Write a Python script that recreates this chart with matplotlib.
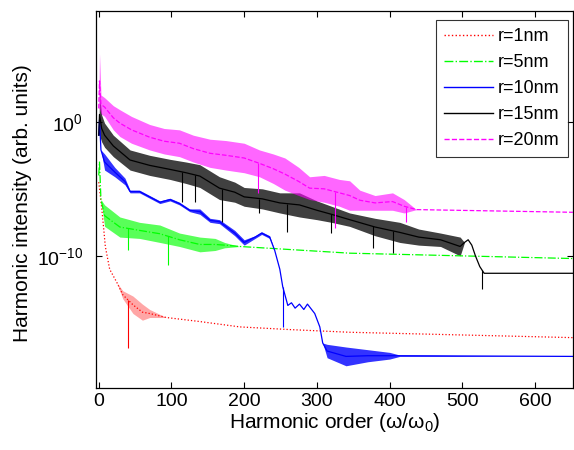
import matplotlib
matplotlib.use("Agg")
import matplotlib.pyplot as plt
import numpy as np

plt.rcParams["font.family"] = ["Liberation Sans", "DejaVu Sans"]
plt.rcParams["mathtext.fontset"] = "custom"
plt.rcParams["mathtext.rm"] = "Liberation Sans"
plt.rcParams["mathtext.it"] = "Liberation Sans"

# values: harmonic order, upper / lower edge of the noisy band (log10 intensity)
r1_h = [0, 4, 7, 9, 15, 25, 33, 47, 60, 70, 93, 139, 194, 263, 345, 652]
r1_hi = [-4.5, -6.4, -8.1, -9.3, -11.0, -12.0, -12.6, -13.0, -13.6, -14.0, -14.6, -14.9, -15.3, -15.5, -15.7, -16.1]
r1_lo = [-4.5, -6.4, -8.1, -9.3, -11.0, -12.0, -13.2, -14.3, -14.8, -14.6, -14.6, -14.9, -15.3, -15.5, -15.7, -16.1]

r5_h = [0, 1, 3, 8, 29, 56, 84, 111, 139, 160, 173, 194, 345, 652]
r5_hi = [-4.0, -3.0, -5.8, -6.2, -7.1, -7.5, -7.7, -8.3, -8.6, -8.7, -9.0, -9.3, -9.8, -10.2]
r5_lo = [-4.0, -3.0, -5.8, -7.8, -8.6, -8.7, -9.0, -9.3, -9.7, -9.6, -9.4, -9.3, -9.8, -10.2]

r10_h = [0, 1, 3, 8, 22, 36, 43, 56, 70, 84, 98, 111, 125, 139, 153, 166, 187, 200, 215, 224, 235,
         242, 249, 253, 256, 260, 265, 270, 276, 282, 287, 297, 304, 308, 314, 340, 370, 400, 414, 652]
r10_hi = [-1.0, 0.15, -2.1, -2.4, -3.4, -4.2, -5.1, -5.1, -5.5, -5.9, -5.7, -6.0, -6.5, -6.5, -7.2, -7.3, -8.1, -8.8, -8.5, -8.2, -8.5,
          -9.6, -11.0, -12.3, -12.9, -13.7, -13.5, -13.9, -13.6, -14.0, -13.6, -14.3, -15.3, -16.5, -16.6, -16.8, -17.0, -17.2, -17.4, -17.5]
r10_lo = [-1.0, 0.15, -2.1, -3.6, -4.1, -4.7, -5.3, -5.3, -5.7, -6.1, -5.9, -6.2, -6.7, -6.9, -7.5, -7.6, -8.5, -9.2, -8.7, -8.4, -8.7,
          -9.6, -11.0, -12.3, -12.9, -13.7, -13.5, -13.9, -13.6, -14.0, -13.6, -14.3, -15.3, -16.5, -17.6, -18.2, -17.9, -17.7, -17.5, -17.5]

r15_h = [0, 1, 4, 8, 20, 43, 70, 98, 120, 139, 166, 187, 200, 225, 249, 276, 300, 320, 345, 380, 414, 440, 470, 497,
         503, 508, 513, 518, 524, 530, 652]
r15_hi = [-1.0, 2.1, 0.5, -0.1, -1.0, -2.1, -2.5, -2.8, -3.0, -3.2, -4.1, -4.5, -4.9, -5.0, -5.3, -5.3, -5.9, -6.3, -6.8, -7.2, -7.5, -8.0, -8.3, -8.6,
          -9.0, -8.8, -9.2, -10.0, -10.8, -11.3, -11.3]
r15_lo = [-1.0, -1.0, -1.5, -1.9, -2.6, -3.6, -4.0, -4.3, -4.6, -4.9, -5.8, -6.0, -6.3, -6.5, -6.8, -7.1, -7.3, -7.5, -7.8, -8.5, -9.0, -9.2, -9.3, -10.0,
          -9.0, -8.8, -9.2, -10.0, -10.8, -11.3, -11.3]

r20_h = [0, 1, 3, 8, 20, 29, 45, 70, 90, 111, 130, 153, 175, 200, 221, 240, 256, 275, 290, 310, 331, 345, 359, 380, 404, 420, 437, 652]
r20_hi = [1.0, 5.1, 2.0, 1.8, 1.2, 0.9, 0.4, -0.2, -0.5, -0.6, -1.0, -1.3, -1.4, -1.6, -2.1, -2.4, -2.7, -3.4, -4.1, -4.0, -4.3, -4.4, -5.1, -5.5, -5.3, -5.8, -6.55, -6.75]
r20_lo = [1.0, 1.0, 0.6, 0.4, -0.6, -1.1, -1.6, -2.1, -2.4, -2.6, -3.0, -3.4, -3.6, -3.8, -4.1, -4.6, -5.1, -5.5, -5.8, -6.0, -6.3, -6.6, -6.6, -6.6, -6.6, -6.8, -6.55, -6.75]

# downward spikes: harmonic order, log10 of the tip
r5_spike_h = [40, 95]
r5_spike_tip = [-9.6, -10.7]
r10_spike_h = [253]
r10_spike_tip = [-15.3]
r15_spike_h = [114, 132, 169, 221, 259, 319, 377, 404, 527]
r15_spike_tip = [-6.0, -6.0, -7.5, -6.8, -8.2, -8.3, -9.4, -9.8, -12.5]
r20_spike_h = [219, 325, 423]
r20_spike_tip = [-5.3, -7.9, -7.5]
r1_spike_h = [40]
r1_spike_tip = [-16.9]

curves = [
    ("r=1nm", "#ff0000", ":", r1_h, r1_hi, r1_lo, r1_spike_h, r1_spike_tip, 0.35),
    ("r=5nm", "#00ff00", "-.", r5_h, r5_hi, r5_lo, r5_spike_h, r5_spike_tip, 0.65),
    ("r=10nm", "#0000ff", "-", r10_h, r10_hi, r10_lo, r10_spike_h, r10_spike_tip, 0.8),
    ("r=15nm", "#000000", "-", r15_h, r15_hi, r15_lo, r15_spike_h, r15_spike_tip, 0.75),
    ("r=20nm", "#ff00ff", "--", r20_h, r20_hi, r20_lo, r20_spike_h, r20_spike_tip, 0.6),
]

fig = plt.figure(figsize=(5.74, 4.5), dpi=100)
ax = fig.add_axes([0.167, 0.138, 0.831, 0.838])

for label, color, ls, h, hi, lo, sh, st, a in curves:
    h = np.array(h, dtype=float)
    hi = np.array(hi)
    lo = np.array(lo)
    mid = (hi + lo) / 2
    ax.fill_between(h, 10.0 ** lo, 10.0 ** hi, color=color, alpha=a, linewidth=0)
    ax.plot(h, 10.0 ** mid, color=color, linestyle=ls, linewidth=0.9, label=label)
    base = np.interp(sh, h, mid)
    ax.vlines(sh, 10.0 ** np.array(st), 10.0 ** base, color=color, linewidth=0.8)

ax.set_yscale("log")
ax.set_xlim(-4, 652)
ax.set_ylim(10 ** -19.85, 10 ** 8.28)
ax.set_xticks([0, 100, 200, 300, 400, 500, 600])
ax.set_yticks([1e-10, 1e0])
ax.set_yticklabels([r"$10^{-10}$", r"$10^{0}$"])
ax.yaxis.set_minor_locator(matplotlib.ticker.NullLocator())
ax.tick_params(direction="in", length=4, width=0.8, labelsize=14, top=True, right=True)
ax.tick_params(axis="y", pad=9)
for s in ax.spines.values():
    s.set_linewidth(0.9)

ax.set_xlabel("Harmonic order (ω/ω$_0$)", fontsize=15, labelpad=1)
ax.set_ylabel("Harmonic intensity (arb. units)", fontsize=15)
ax.yaxis.set_label_coords(-0.134, 0.49)

leg = ax.legend(loc="upper right", bbox_to_anchor=(0.9895, 0.976), borderaxespad=0, fontsize=13,
                frameon=True, fancybox=False, edgecolor="black",
                handlelength=2.7, handletextpad=0.28, labelspacing=0.5, borderpad=0.45)
leg.get_frame().set_linewidth(0.8)
for line in leg.get_lines():
    line.set_linewidth(1.0)

fig.savefig("out.png", dpi=100)
plt.close(fig)
